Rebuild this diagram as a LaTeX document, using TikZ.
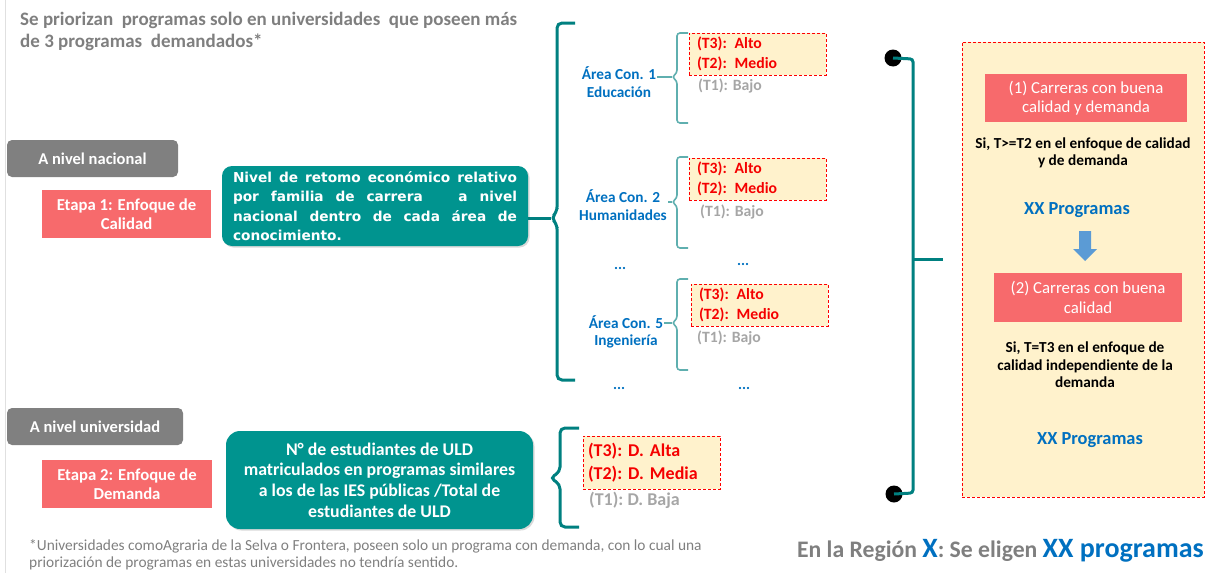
\documentclass[tikz,border=0pt]{standalone}
\usepackage{fontspec}
\setmainfont{Carlito}
\newfontfamily\dejavu{DejaVu Sans}
\usetikzlibrary{shadows}
\definecolor{tealbox}{RGB}{0,148,143}
\definecolor{tealline}{RGB}{0,128,128}
\definecolor{lteal}{RGB}{95,175,175}
\definecolor{salmon}{RGB}{247,106,108}
\definecolor{gbox}{RGB}{128,128,128}
\definecolor{cream}{RGB}{255,242,204}
\definecolor{redtxt}{RGB}{245,0,0}
\definecolor{ltgray}{RGB}{166,166,166}
\definecolor{dkgray}{RGB}{127,127,127}
\definecolor{myblue}{RGB}{0,112,192}
\definecolor{arrowblue}{RGB}{91,155,213}
\newcommand\fs[2]{\fontsize{#1}{#2}\selectfont}
\begin{document}
\begin{tikzpicture}[x=1pt,y=-1pt, font=\bfseries,
 graybox/.style={fill=gbox, rounded corners=5pt, text=white, font=\bfseries\fs{16.5}{19}, inner sep=0pt},
 redbox/.style={fill=salmon, text=white, align=center, inner sep=0pt},
 tealbox/.style={fill=tealbox, rounded corners=10pt, text=white, inner sep=0pt, drop shadow={opacity=0.3,shadow xshift=1.5pt,shadow yshift=-1.5pt}},
 dbox/.style={fill=cream, draw=red, dash pattern=on 3pt off 2pt, line width=0.8pt, text=redtxt, align=left, inner sep=0pt},
 lowtxt/.style={text=ltgray, inner sep=0pt, anchor=west},
 arealbl/.style={text=myblue, align=center, font=\bfseries\fs{15.3}{17.5}, inner sep=1pt},
 bigbrace/.style={draw=tealline, line width=3pt, rounded corners=5pt},
 smallbrace/.style={draw=lteal, line width=1.6pt, rounded corners=3pt},
 dotstxt/.style={text=myblue, font=\bfseries\fs{15}{17}, inner sep=0pt},
 blacktxt/.style={text=black, align=center, font=\bfseries\fs{15.3}{17.5}, inner sep=0pt},
 bluetxt/.style={text=myblue, font=\bfseries\fs{18.4}{21}, inner sep=0pt},
]
\useasboundingbox (0,0) rectangle (1206,573);
\draw[black!12, line width=1pt] (5,0) -- (5,573);

% title
\node[text=dkgray, align=left, anchor=west, inner sep=0pt, font=\bfseries\fs{19}{22}] (title) at (20,31)
  {Se priorizan\ \ programas solo en universidades\ \ que poseen más\\de 3 programas\ \ demandados*};

% level boxes
\node[graybox, minimum width=171, minimum height=37] (nac) at (92.5,158.5) {A nivel nacional};
\node[redbox, minimum width=169, minimum height=48, font=\bfseries\fs{16.7}{19.5}] (e1) at (126.5,214) {Etapa 1: Enfoque de\\Calidad};
\node[tealbox, minimum width=306, minimum height=80, text width=284, align=justify, font=\dejavu\bfseries\fs{13.7}{19.3}] (t1) at (375,206)
  {Nivel de retomo económico relativo\linebreak por familia de carrera\ \ \ a nivel\linebreak nacional dentro de cada área de\linebreak conocimiento.};

\node[graybox, minimum width=176, minimum height=37] (uni) at (95,426.5) {A nivel universidad};
\node[redbox, minimum width=170, minimum height=48, font=\bfseries\fs{16.7}{19.5}] (e2) at (127,484) {Etapa 2: Enfoque de\\Demanda};
\node[tealbox, rounded corners=14pt, minimum width=307, minimum height=98, align=center, font=\bfseries\fs{17.8}{20.7}] (t2) at (379.5,480)
  {N° de estudiantes de ULD\\matriculados en programas similares\\a los de las IES públicas /Total de\\estudiantes de ULD};

% big brace
\coordinate (bb) at (551,218);
\draw[bigbrace] (575,23) -- (557,23) -- (557,212) -- (bb) -- (557,224) -- (557,380) -- (575,380);
\draw[draw=tealline, line width=3pt] (bb) -- (bb -| t1.east);

% area labels
\node[arealbl] (a1) at (619,82) {Área Con. 1\\Educación};
\node[arealbl] (a2) at (623,205) {Área Con. 2\\Humanidades};
\node[arealbl] (a5) at (626,332) {Área Con. 5\\Ingeniería};

% small braces
\coordinate (s1) at (672,77);
\draw[smallbrace] (688,33) -- (677,33) -- (677,73) -- (s1) -- (677,81) -- (677,123) -- (688,123);
\draw[draw=lteal, line width=1.6pt] (s1) -- (s1 -| a1.east);
\coordinate (s2) at (672,202);
\draw[smallbrace] (688,157) -- (677,157) -- (677,198) -- (s2) -- (677,206) -- (677,248) -- (688,248);
\draw[draw=lteal, line width=1.6pt] (s2) -- (s2 -| a2.east);
\coordinate (s5) at (672,323);
\draw[smallbrace] (688,279) -- (677,279) -- (677,319) -- (s5) -- (677,327) -- (677,370) -- (688,370);
\draw[draw=lteal, line width=1.6pt] (s5) -- (s5 -| a5.east);

% tier boxes
\node[dbox, minimum width=137, minimum height=42, text width=121, font=\bfseries\fs{15.7}{20}] (b1) at (757.5,54) {(T3): Alto\\(T2): Medio};
\node[lowtxt, font=\bfseries\fs{15.7}{18}] (l1) at (698,86) {(T1): Bajo};
\node[dbox, minimum width=137, minimum height=42, text width=121, font=\bfseries\fs{15.7}{20}] (b2) at (757.5,179) {(T3): Alto\\(T2): Medio};
\node[lowtxt, font=\bfseries\fs{15.7}{18}] (l2) at (700,212) {(T1): Bajo};
\node[dbox, minimum width=137, minimum height=42, text width=121, font=\bfseries\fs{15.7}{20}] (b3) at (759.5,305) {(T3): Alto\\(T2): Medio};
\node[lowtxt, font=\bfseries\fs{15.7}{18}] (l3) at (697,338) {(T1): Bajo};

% dots
\node[dotstxt] (d1a) at (620,268) {...};
\node[dotstxt] (d1b) at (743,264) {...};
\node[dotstxt] (d2a) at (619,388) {...};
\node[dotstxt] (d2b) at (744,388) {...};

% demand brace and box
\coordinate (sd) at (550,478);
\draw[bigbrace] (579,428) -- (560,428) -- (560,472) -- (sd) -- (560,484) -- (560,527) -- (579,527);
\node[dbox, minimum width=137, minimum height=53, text width=127, font=\bfseries\fs{18}{23}] (bd) at (651.5,462.5) {(T3):\ D. Alta\\(T2):\ D. Media};
\node[lowtxt, font=\bfseries\fs{18}{20}] (ld) at (589,500) {(T1):\ D. Baja};

% footnote
\node[text=dkgray, align=left, anchor=west, inner sep=0pt, font=\mdseries\fs{15.4}{17}] (fn) at (29,555)
  {*Universidades comoAgraria de la Selva o Frontera, poseen solo un programa con demanda, con lo cual una\\priorización de programas en estas universidades no tendría sentido.};

% right bracket
\node[circle, fill=black, minimum size=17pt, inner sep=0pt] (p1) at (893,58) {};
\node[circle, fill=black, minimum size=17pt, inner sep=0pt] (p2) at (894,494) {};
\coordinate (rt) at (943,259);
\draw[draw=tealline, line width=3pt, rounded corners=3pt] (p1.center) -- (913,59) -- (913,493) -- (p2.center);
\draw[draw=tealline, line width=3pt] (913,259) -- (rt);

% result box
\node[fill=cream, draw=red, dash pattern=on 3pt off 2pt, line width=0.8pt, minimum width=242, minimum height=455, inner sep=0pt] (res) at (1083,269.5) {};
\node[redbox, minimum width=202, minimum height=48, font=\mdseries\fs{16.8}{19.5}] (r1) at (1086,98) {(1) Carreras con buena\\calidad y demanda};
\node[blacktxt] (c1) at (1083,153) {Si, T>=T2 en el enfoque de calidad\\y de demanda};
\node[bluetxt] (x1) at (1077,210) {XX Programas};
\fill[arrowblue] (1079,231) -- (1091,231) -- (1091,249) -- (1097,249) -- (1085,261) -- (1073,249) -- (1079,249) -- cycle;
\node[redbox, minimum width=188, minimum height=49, font=\mdseries\fs{16.8}{19.5}] (r2) at (1088,297.5) {(2) Carreras con buena\\calidad};
\node[blacktxt] (c2) at (1085,365) {Si, T=T3 en el enfoque de\\calidad independiente de la\\demanda};
\node[bluetxt] (x2) at (1090,440) {XX Programas};

% bottom line
\node[anchor=east, inner sep=0pt] (region) at (1204,551)
  {{\color{dkgray}\fs{23.7}{28}En la Región }{\color{myblue}\fs{28}{30}X}{\color{dkgray}\fs{23.7}{28}: Se eligen }{\color{myblue}\fs{28}{30}XX programas}};
\end{tikzpicture}
\end{document}
